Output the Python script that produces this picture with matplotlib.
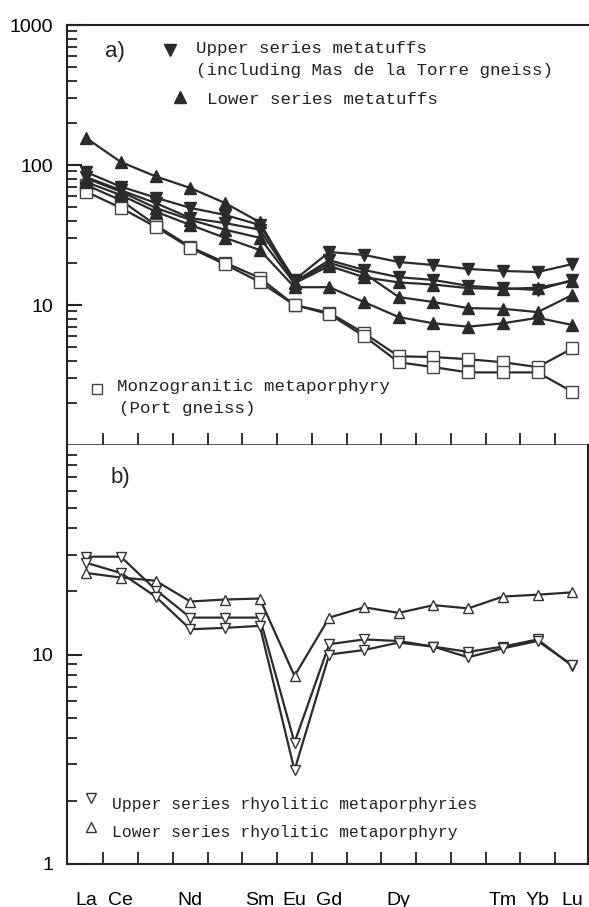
import matplotlib
matplotlib.use("Agg")
import matplotlib.pyplot as plt
import numpy as np

elements = ["La", "Ce", "Pr", "Nd", "Pm", "Sm", "Eu", "Gd", "Tb", "Dy", "Ho", "Er", "Tm", "Yb", "Lu"]
shown_labels = ["La", "Ce", "Nd", "Sm", "Eu", "Gd", "Dy", "Tm", "Yb", "Lu"]

# Panel a) upper series metatuffs (filled down triangles)
upper_tuff_1 = [89, 70, 58.5, 49.4, 44, 37.3, 15.1, 23.9, 22.8, 20.3, 19.3, 18.1, 17.5, 17.2, 19.6]
upper_tuff_2 = [82, 66, 53.5, 41.8, 38.5, 34.5, 14.6, 20.9, 17.8, 15.8, 15.1, 13.7, 13.2, 12.8, 15.1]
# Panel a) lower series metatuffs (filled up triangles)
lower_tuff_1 = [156, 105, 83, 68.5, 53.5, 39, 14.4, 20.0, 16.9, 11.4, 10.5, 9.5, 9.4, 8.9, 11.8]
lower_tuff_2 = [80.5, 64.5, 49.4, 40.6, 34.5, 30.2, 14.3, 19.0, 15.8, 14.5, 14.0, 13.2, 13.0, 13.3, 14.8]
lower_tuff_3 = [75.5, 61, 46.5, 37.3, 30.2, 24.7, 13.4, 13.4, 10.5, 8.2, 7.4, 7.0, 7.4, 8.1, 7.2]
# Panel a) monzogranitic metaporphyry (open squares)
monzo_1 = [72, 56, 37.3, 26, 20.1, 15.6, 10, 8.8, 6.3, 4.3, 4.25, 4.1, 3.9, 3.6, 4.9]
monzo_2 = [64.5, 49.4, 36.2, 25.6, 19.5, 14.6, 10, 8.6, 6.0, 3.9, 3.6, 3.3, 3.3, 3.3, 2.4]

# Panel b) upper series rhyolitic metaporphyries (open down triangles)
upper_rhyo_1 = [29.3, 29.3, 20.4, 15.0, 15.0, 15.0, 3.8, 11.2, 11.8, 11.6, 10.9, 10.3, 10.9, 11.8, 8.8]
upper_rhyo_2 = [27.4, 24.5, 18.9, 13.2, 13.4, 13.7, 2.8, 10.0, 10.5, 11.4, 10.9, 9.7, 10.7, 11.6, 8.9]
# Panel b) lower series rhyolitic metaporphyry (open up triangle)
lower_rhyo = [24.5, 23.3, 22.5, 17.9, 18.3, 18.5, 7.9, 15.0, 16.8, 15.8, 17.2, 16.6, 18.9, 19.3, 19.8]

W, H = 589, 907
fig = plt.figure(figsize=(W / 100, H / 100), dpi=100)
left = 67 / W
right = 588 / W
y_top = 1 - 25 / H
y_mid = 1 - 445 / H
y_bot = 1 - 864 / H
axA = fig.add_axes([left, y_mid, right - left, y_top - y_mid])
axB = fig.add_axes([left, y_bot, right - left, y_mid - y_bot])

x = np.arange(len(elements))
col = "#2b2b2b"
lw = 1.6

def style(ax, ylim, ylabels):
    ax.set_yscale("log")
    ax.set_ylim(*ylim)
    ax.set_xlim(-0.55, 14.45)
    for s in ax.spines.values():
        s.set_linewidth(1.5)
        s.set_color("#222222")
    ax.set_yticks(list(ylabels.keys()))
    ax.set_yticklabels(list(ylabels.values()), fontfamily="Liberation Sans", fontsize=14)
    ax.yaxis.set_minor_locator(matplotlib.ticker.LogLocator(base=10, subs=np.arange(2, 10)))
    ax.yaxis.set_minor_formatter(matplotlib.ticker.NullFormatter())
    ax.tick_params(axis="y", which="major", direction="in", length=11, width=1.5, pad=10, color="#222222")
    ax.tick_params(axis="y", which="minor", direction="in", length=7, width=1.3, color="#222222")
    ax.tick_params(axis="y", which="both", right=False)
    ax.set_xticks(x)
    ax.set_xticks(x[:-1] + 0.5, minor=True)
    ax.tick_params(axis="x", which="minor", direction="in", length=9, width=1.3, top=False, color="#222222")
    ax.tick_params(axis="x", which="major", length=0, top=False, pad=20)

style(axA, (1, 1000), {1000: "1000", 100: "100", 10: "10"})
style(axB, (1, 100), {10: "10", 1: "1"})
axA.set_xticklabels([])
axB.set_xticklabels([e if e in shown_labels else "" for e in elements],
                    fontfamily="Liberation Sans", fontsize=14)
axA.spines["right"].set_visible(False)
axA.spines["bottom"].set_linewidth(1.8)
axB.spines["top"].set_visible(False)

# Panel a
for s in [upper_tuff_1, upper_tuff_2]:
    axA.plot(x, s, color=col, lw=lw, marker="v", ms=9, mfc=col, mec=col, zorder=3)
for s in [lower_tuff_1, lower_tuff_2, lower_tuff_3]:
    axA.plot(x, s, color=col, lw=lw, marker="^", ms=9, mfc=col, mec=col, zorder=3)
for s in [monzo_1, monzo_2]:
    axA.plot(x, s, color=col, lw=lw, marker="s", ms=8, mfc="white", mec="#444444", mew=1.0, zorder=2)

# Panel b
for s in [upper_rhyo_1, upper_rhyo_2]:
    axB.plot(x, s, color=col, lw=lw, marker="v", ms=7, mfc="white", mec="#333333", mew=1.0, zorder=3)
axB.plot(x, lower_rhyo, color=col, lw=lw, marker="^", ms=7, mfc="white", mec="#333333", mew=1.0, zorder=3)

mono = "Liberation Mono"
def fx(px):
    return px / W
def fy(py):
    return 1 - py / H

fig.text(fx(105), fy(51), "a)", fontfamily="Liberation Sans", fontsize=16, va="center", ha="left", color="#222222")
fig.lines.append(matplotlib.lines.Line2D([fx(170)], [fy(50)], marker="v", ms=9, color=col, transform=fig.transFigure))
fig.text(fx(196), fy(49), "Upper series metatuffs", fontfamily=mono, fontsize=12.6, va="center", ha="left", color="#222222")
fig.text(fx(196), fy(71), "(including Mas de la Torre gneiss)", fontfamily=mono, fontsize=12.6, va="center", ha="left", color="#222222")
fig.lines.append(matplotlib.lines.Line2D([fx(180)], [fy(97)], marker="^", ms=9, color=col, transform=fig.transFigure))
fig.text(fx(207), fy(100), "Lower series metatuffs", fontfamily=mono, fontsize=12.6, va="center", ha="left", color="#222222")

fig.lines.append(matplotlib.lines.Line2D([fx(97)], [fy(389)], marker="s", ms=7, mfc="white", mec="#444444", mew=1.0, transform=fig.transFigure))
fig.text(fx(117), fy(387), "Monzogranitic metaporphyry", fontfamily=mono, fontsize=12.6, va="center", ha="left", color="#222222")
fig.text(fx(119), fy(409), "(Port gneiss)", fontfamily=mono, fontsize=12.6, va="center", ha="left", color="#222222")

fig.text(fx(111), fy(478), "b)", fontfamily="Liberation Sans", fontsize=16, va="center", ha="left", color="#222222")
fig.lines.append(matplotlib.lines.Line2D([fx(91)], [fy(798)], marker="v", ms=7, mfc="white", mec="#333333", mew=1.0, transform=fig.transFigure))
fig.text(fx(112), fy(804), "Upper series rhyolitic metaporphyries", fontfamily=mono, fontsize=11.8, va="center", ha="left", color="#222222")
fig.lines.append(matplotlib.lines.Line2D([fx(91)], [fy(827)], marker="^", ms=7, mfc="white", mec="#333333", mew=1.0, transform=fig.transFigure))
fig.text(fx(112), fy(832), "Lower series rhyolitic metaporphyry", fontfamily=mono, fontsize=11.8, va="center", ha="left", color="#222222")

fig.savefig("out.png", dpi=100)
